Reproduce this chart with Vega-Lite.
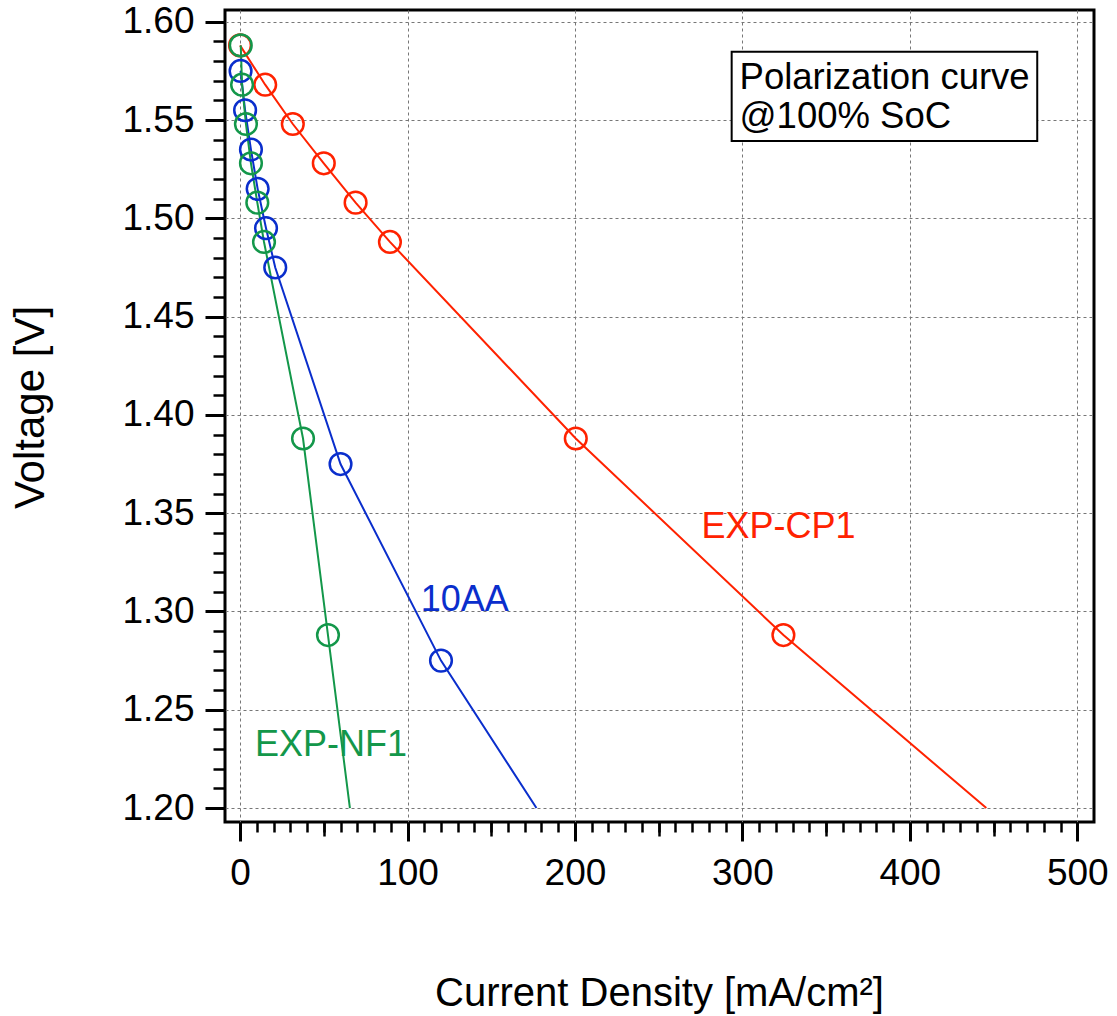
{
  "$schema": "https://vega.github.io/schema/vega-lite/v6.json",
  "autosize": "none",
  "width": 869,
  "height": 812,
  "padding": {"left": 225, "top": 10, "right": 23, "bottom": 194},
  "background": "white",
  "config": {
    "view": {"stroke": "black", "strokeWidth": 3},
    "font": "Liberation Sans",
    "axis": {"domain": false, "tickColor": "black", "labelColor": "black", "titleColor": "black", "titleFontWeight": "normal", "labelFont": "Liberation Sans", "titleFont": "Liberation Sans"}
  },
  "datasets": {
    "pts": [
      {"series": "EXP-CP1", "current": 0, "voltage": 1.588},
      {"series": "EXP-CP1", "current": 15, "voltage": 1.568},
      {"series": "EXP-CP1", "current": 31.5, "voltage": 1.548},
      {"series": "EXP-CP1", "current": 50, "voltage": 1.528},
      {"series": "EXP-CP1", "current": 69, "voltage": 1.508},
      {"series": "EXP-CP1", "current": 89.5, "voltage": 1.488},
      {"series": "EXP-CP1", "current": 200.5, "voltage": 1.388},
      {"series": "EXP-CP1", "current": 324.5, "voltage": 1.288},
      {"series": "10AA", "current": 0.3, "voltage": 1.575},
      {"series": "10AA", "current": 3, "voltage": 1.555},
      {"series": "10AA", "current": 6.5, "voltage": 1.535},
      {"series": "10AA", "current": 10.5, "voltage": 1.515},
      {"series": "10AA", "current": 15.5, "voltage": 1.495},
      {"series": "10AA", "current": 21, "voltage": 1.475},
      {"series": "10AA", "current": 60, "voltage": 1.375},
      {"series": "10AA", "current": 120, "voltage": 1.275},
      {"series": "EXP-NF1", "current": 0.4, "voltage": 1.588},
      {"series": "EXP-NF1", "current": 1.2, "voltage": 1.568},
      {"series": "EXP-NF1", "current": 3.5, "voltage": 1.548},
      {"series": "EXP-NF1", "current": 6.5, "voltage": 1.528},
      {"series": "EXP-NF1", "current": 10.3, "voltage": 1.508},
      {"series": "EXP-NF1", "current": 14.3, "voltage": 1.488},
      {"series": "EXP-NF1", "current": 37.6, "voltage": 1.388},
      {"series": "EXP-NF1", "current": 52.5, "voltage": 1.288}
    ],
    "lines": [
      {"series": "EXP-CP1", "current": 0, "voltage": 1.588},
      {"series": "EXP-CP1", "current": 15, "voltage": 1.568},
      {"series": "EXP-CP1", "current": 31.5, "voltage": 1.548},
      {"series": "EXP-CP1", "current": 50, "voltage": 1.528},
      {"series": "EXP-CP1", "current": 69, "voltage": 1.508},
      {"series": "EXP-CP1", "current": 89.5, "voltage": 1.488},
      {"series": "EXP-CP1", "current": 200.5, "voltage": 1.388},
      {"series": "EXP-CP1", "current": 324.5, "voltage": 1.288},
      {"series": "EXP-CP1", "current": 445.7, "voltage": 1.2},
      {"series": "10AA", "current": 0.3, "voltage": 1.575},
      {"series": "10AA", "current": 3, "voltage": 1.555},
      {"series": "10AA", "current": 6.5, "voltage": 1.535},
      {"series": "10AA", "current": 10.5, "voltage": 1.515},
      {"series": "10AA", "current": 15.5, "voltage": 1.495},
      {"series": "10AA", "current": 21, "voltage": 1.475},
      {"series": "10AA", "current": 60, "voltage": 1.375},
      {"series": "10AA", "current": 120, "voltage": 1.275},
      {"series": "10AA", "current": 177, "voltage": 1.2},
      {"series": "EXP-NF1", "current": 0.4, "voltage": 1.588},
      {"series": "EXP-NF1", "current": 1.2, "voltage": 1.568},
      {"series": "EXP-NF1", "current": 3.5, "voltage": 1.548},
      {"series": "EXP-NF1", "current": 6.5, "voltage": 1.528},
      {"series": "EXP-NF1", "current": 10.3, "voltage": 1.508},
      {"series": "EXP-NF1", "current": 14.3, "voltage": 1.488},
      {"series": "EXP-NF1", "current": 37.6, "voltage": 1.388},
      {"series": "EXP-NF1", "current": 52.5, "voltage": 1.288},
      {"series": "EXP-NF1", "current": 65.6, "voltage": 1.2}
    ],
    "labels": [
      {"series": "EXP-CP1", "current": 321.6, "voltage": 1.343, "label": "EXP-CP1"},
      {"series": "10AA", "current": 134.2, "voltage": 1.306, "label": "10AA"},
      {"series": "EXP-NF1", "current": 54.3, "voltage": 1.232, "label": "EXP-NF1"}
    ],
    "box": [
      {"x1": 293.6, "x2": 476.1, "y1": 1.5847, "y2": 1.5394}
    ],
    "boxtext": [
      {"current": 298.3, "voltage": 1.5659, "label": "Polarization curve"},
      {"current": 298.3, "voltage": 1.5461, "label": "@100% SoC"}
    ]
  },
  "resolve": {"axis": {"x": "independent", "y": "independent"}},
  "layer": [
    {
      "data": {"name": "lines"},
      "mark": {"type": "line", "strokeWidth": 2},
      "encoding": {
        "x": {"field": "current", "type": "quantitative",
          "scale": {"domain": [-9, 510], "nice": false, "zero": false},
          "axis": {"orient": "bottom", "values": [0, 100, 200, 300, 400, 500], "grid": true, "gridColor": "#777777", "gridDash": [3, 3], "gridWidth": 1, "tickSize": 19, "tickWidth": 3, "labelFontSize": 37, "labelPadding": 14, "title": "Current Density [mA/cm²]", "titleFontSize": 40, "titleBaseline": "middle", "titleX": 434, "titleY": 171}},
        "y": {"field": "voltage", "type": "quantitative",
          "scale": {"domain": [1.1929, 1.606], "nice": false, "zero": false},
          "axis": {"orient": "left", "values": [1.2, 1.25, 1.3, 1.35, 1.4, 1.45, 1.5, 1.55, 1.6], "format": ".2f", "grid": true, "gridColor": "#777777", "gridDash": [3, 3], "gridWidth": 1, "tickSize": 20, "tickWidth": 3, "labelFontSize": 37, "labelPadding": 11, "title": "Voltage [V]", "titleFontSize": 42, "titleBaseline": "middle", "titleAngle": -90, "titleX": -195, "titleY": 397}},
        "color": {"field": "series", "type": "nominal",
          "scale": {"domain": ["EXP-CP1", "10AA", "EXP-NF1"], "range": ["#ff2200", "#0a2ecc", "#13974a"]},
          "legend": null}
      }
    },
    {
      "data": {"name": "pts"},
      "mark": {"type": "point", "shape": "circle", "filled": false, "size": 470, "strokeWidth": 2.5, "opacity": 1},
      "encoding": {
        "x": {"field": "current", "type": "quantitative",
          "axis": {"orient": "bottom", "values": [0,10,20,30,40,50,60,70,80,90,100,110,120,130,140,150,160,170,180,190,200,210,220,230,240,250,260,270,280,290,300,310,320,330,340,350,360,370,380,390,400,410,420,430,440,450,460,470,480,490,500], "labels": false, "grid": false, "tickSize": 10, "tickWidth": 2.5, "title": null}},
        "y": {"field": "voltage", "type": "quantitative",
          "axis": {"orient": "left", "values": [1.2,1.21,1.22,1.23,1.24,1.25,1.26,1.27,1.28,1.29,1.3,1.31,1.32,1.33,1.34,1.35,1.36,1.37,1.38,1.39,1.4,1.41,1.42,1.43,1.44,1.45,1.46,1.47,1.48,1.49,1.5,1.51,1.52,1.53,1.54,1.55,1.56,1.57,1.58,1.59,1.6], "labels": false, "grid": false, "tickSize": 12, "tickWidth": 2.5, "title": null}},
        "color": {"field": "series", "type": "nominal", "legend": null}
      }
    },
    {
      "data": {"name": "labels"},
      "mark": {"type": "text", "fontSize": 36, "align": "center", "baseline": "middle"},
      "encoding": {
        "x": {"field": "current", "type": "quantitative",
          "axis": {"orient": "bottom", "values": [50, 150, 250, 350, 450], "labels": false, "grid": false, "tickSize": 14, "tickWidth": 2.5, "title": null}},
        "y": {"field": "voltage", "type": "quantitative", "axis": null},
        "text": {"field": "label"},
        "color": {"field": "series", "type": "nominal", "legend": null}
      }
    },
    {
      "data": {"name": "box"},
      "mark": {"type": "rect", "fill": "white", "stroke": "black", "strokeWidth": 2},
      "encoding": {
        "x": {"field": "x1", "type": "quantitative", "axis": null},
        "x2": {"field": "x2"},
        "y": {"field": "y1", "type": "quantitative", "axis": null},
        "y2": {"field": "y2"}
      }
    },
    {
      "data": {"name": "boxtext"},
      "mark": {"type": "text", "fontSize": 36.5, "align": "left", "baseline": "alphabetic", "color": "black"},
      "encoding": {
        "x": {"field": "current", "type": "quantitative", "axis": null},
        "y": {"field": "voltage", "type": "quantitative", "axis": null},
        "text": {"field": "label"}
      }
    }
  ]
}
